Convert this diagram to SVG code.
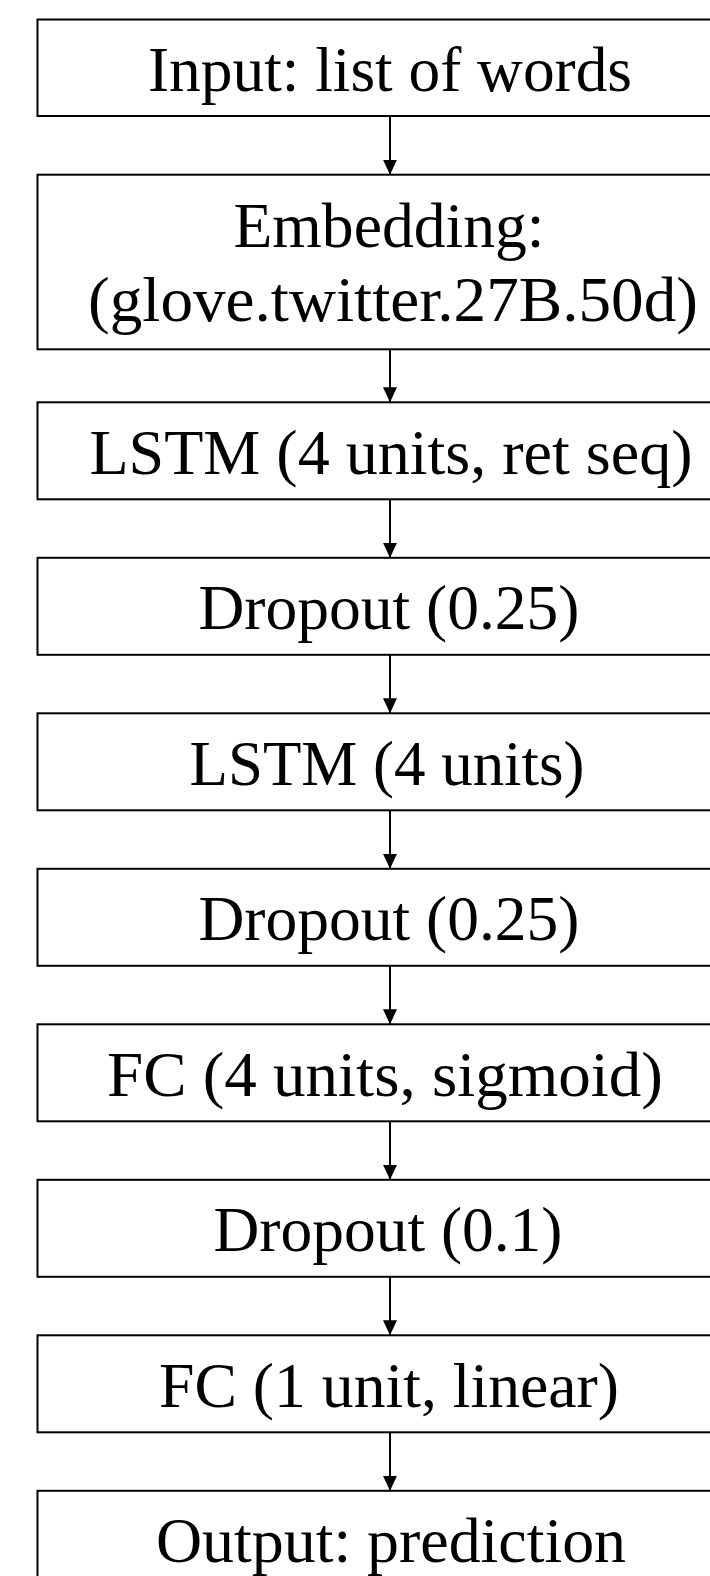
<svg xmlns="http://www.w3.org/2000/svg" width="710" height="1576" viewBox="0 0 710 1576">
<style>
.box{fill:#fff;stroke:#000;stroke-width:2}
.lbl{font-family:"Liberation Serif","Times New Roman",serif;font-size:63.5px;fill:#000;text-anchor:middle}
.conn{stroke:#000;stroke-width:2;fill:none}
</style>
<defs>
<marker id="ah" markerUnits="userSpaceOnUse" markerWidth="15" markerHeight="15" refX="15" refY="7" orient="auto">
<path d="M0,0 L15,7 L0,14 z" fill="#000"/>
</marker>
</defs>
<rect width="710" height="1576" fill="#fff"/>
<g id="connectors">
<line class="conn" x1="390" y1="116" x2="390" y2="174.7" marker-end="url(#ah)"/>
<line class="conn" x1="390" y1="349.3" x2="390" y2="402.3" marker-end="url(#ah)"/>
<line class="conn" x1="390" y1="499.3" x2="390" y2="557.8" marker-end="url(#ah)"/>
<line class="conn" x1="390" y1="654.8" x2="390" y2="713.3" marker-end="url(#ah)"/>
<line class="conn" x1="390" y1="810.3" x2="390" y2="868.8" marker-end="url(#ah)"/>
<line class="conn" x1="390" y1="965.8" x2="390" y2="1024.3" marker-end="url(#ah)"/>
<line class="conn" x1="390" y1="1121.3" x2="390" y2="1179.8" marker-end="url(#ah)"/>
<line class="conn" x1="390" y1="1276.8" x2="390" y2="1335.3" marker-end="url(#ah)"/>
<line class="conn" x1="390" y1="1432.3" x2="390" y2="1490.8" marker-end="url(#ah)"/>
</g>
<g id="input"><rect class="box" x="37.5" y="19.5" width="705" height="96.5"/><text class="lbl" x="390" y="90.7" textLength="484" lengthAdjust="spacingAndGlyphs">Input: list of words</text></g>
<g id="embedding"><rect class="box" x="37.5" y="174.7" width="705" height="174.6"/><text class="lbl" x="389" y="246.7" textLength="311" lengthAdjust="spacingAndGlyphs">Embedding:</text><text class="lbl" x="393" y="320.5" textLength="610" lengthAdjust="spacingAndGlyphs">(glove.twitter.27B.50d)</text></g>
<g id="lstm1"><rect class="box" x="37.5" y="402.3" width="705" height="97"/><text class="lbl" x="391" y="473.8" textLength="603" lengthAdjust="spacingAndGlyphs">LSTM (4 units, ret seq)</text></g>
<g id="dropout1"><rect class="box" x="37.5" y="557.8" width="705" height="97"/><text class="lbl" x="389" y="629.3" textLength="381" lengthAdjust="spacingAndGlyphs">Dropout (0.25)</text></g>
<g id="lstm2"><rect class="box" x="37.5" y="713.3" width="705" height="97"/><text class="lbl" x="387" y="784.8" textLength="395" lengthAdjust="spacingAndGlyphs">LSTM (4 units)</text></g>
<g id="dropout2"><rect class="box" x="37.5" y="868.8" width="705" height="97"/><text class="lbl" x="389" y="940.3" textLength="381" lengthAdjust="spacingAndGlyphs">Dropout (0.25)</text></g>
<g id="fc1"><rect class="box" x="37.5" y="1024.3" width="705" height="97"/><text class="lbl" x="385" y="1095.8" textLength="556" lengthAdjust="spacingAndGlyphs">FC (4 units, sigmoid)</text></g>
<g id="dropout3"><rect class="box" x="37.5" y="1179.8" width="705" height="97"/><text class="lbl" x="388" y="1251.3" textLength="349" lengthAdjust="spacingAndGlyphs">Dropout (0.1)</text></g>
<g id="fc2"><rect class="box" x="37.5" y="1335.3" width="705" height="97"/><text class="lbl" x="389" y="1406.8" textLength="460" lengthAdjust="spacingAndGlyphs">FC (1 unit, linear)</text></g>
<g id="output"><rect class="box" x="37.5" y="1490.8" width="705" height="97"/><text class="lbl" x="391" y="1562.3" textLength="470" lengthAdjust="spacingAndGlyphs">Output: prediction</text></g>
</svg>
